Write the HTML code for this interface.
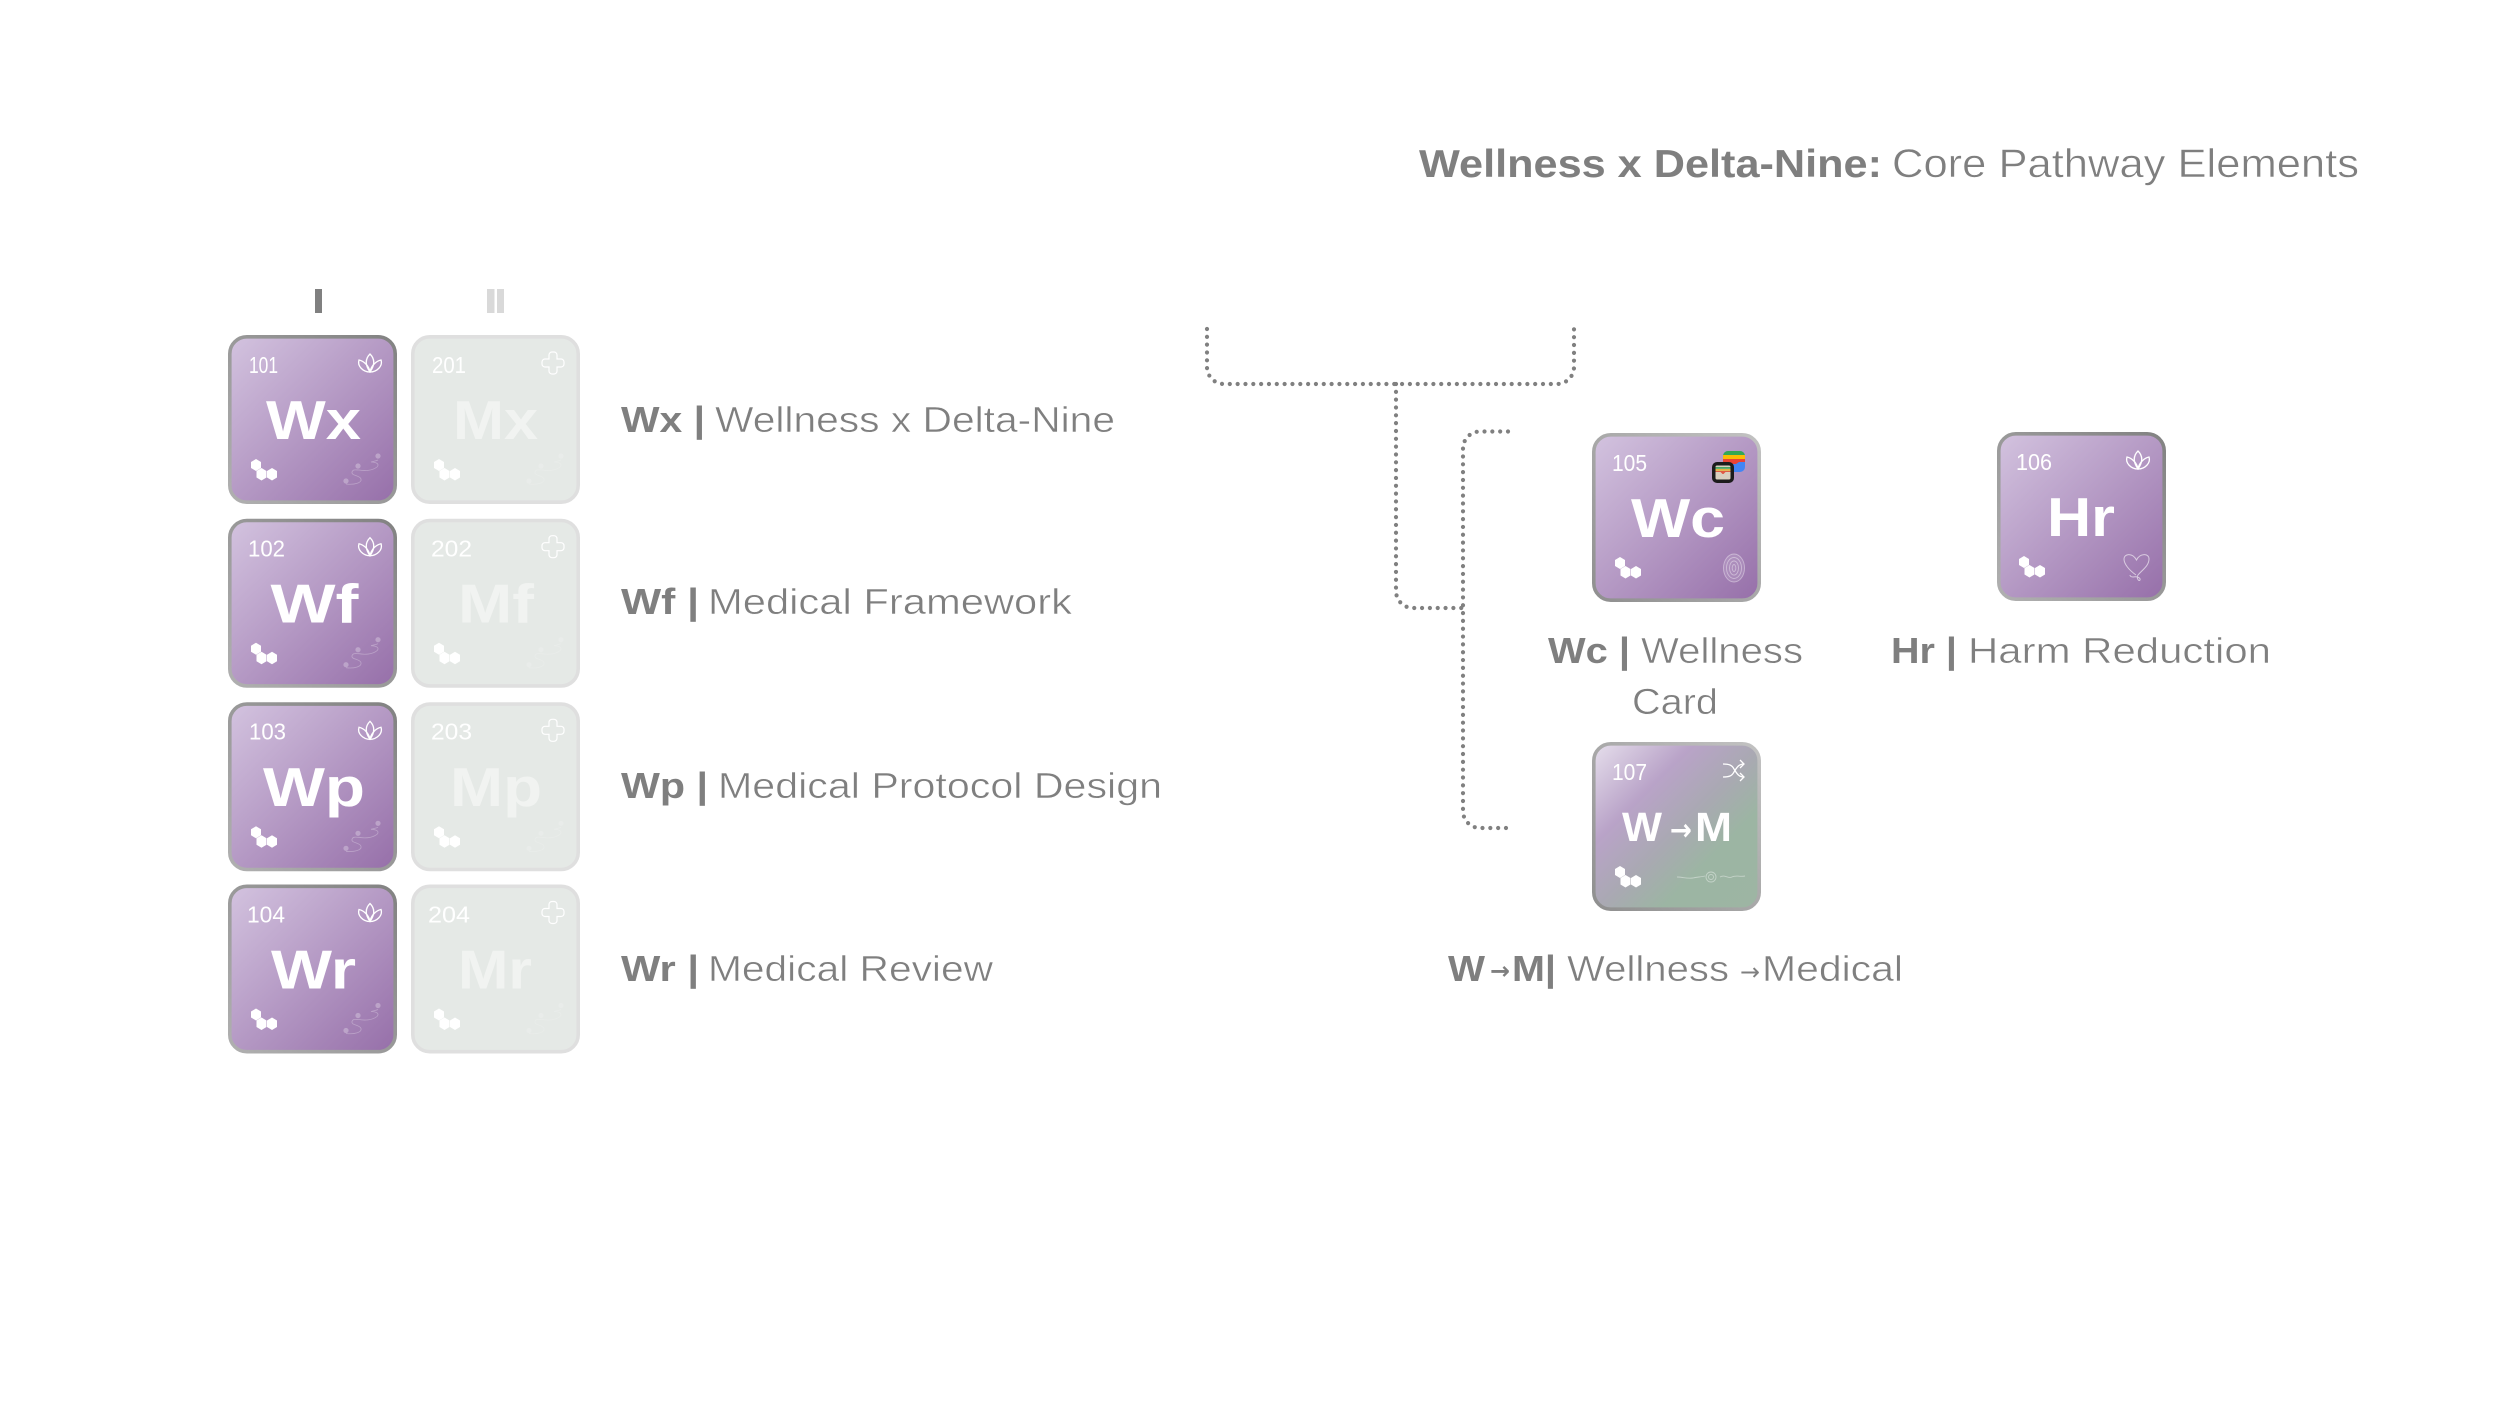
<!DOCTYPE html>
<html lang="en">
<head>
<meta charset="utf-8">
<title>Wellness x Delta-Nine: Core Pathway Elements</title>
<style>
html,body{margin:0;padding:0;background:#fff;width:2500px;height:1406px;overflow:hidden}
svg{display:block}
text{font-family:"Liberation Sans",sans-serif}
.b{font-weight:700;fill:#7f7f7f;font-size:36px}
.r{fill:#7f7f7f;font-size:36px;stroke:#fff;stroke-width:.5}
.sym{font-weight:700;fill:#fff;font-size:55px}
.symL{font-weight:700;fill:#f1f3f1;font-size:55px}
.nL{fill:#fff;font-size:23px;stroke:none}
.dot{fill:none;stroke:#808080;stroke-width:4.2;stroke-linecap:round;stroke-dasharray:0 7.83}
</style>
</head>
<body>
<svg width="2500" height="1406" viewBox="0 0 2500 1406" xmlns="http://www.w3.org/2000/svg">
<defs>
<linearGradient id="p" x1="0" y1="0" x2="1" y2="1">
<stop offset="0" stop-color="#d3c3df"/><stop offset="1" stop-color="#966fa9"/>
</linearGradient>
<linearGradient id="ps" x1="0" y1="1" x2="1" y2="0">
<stop offset="0" stop-color="#b0b0b0"/><stop offset="1" stop-color="#828282"/>
</linearGradient>
<linearGradient id="ps2" x1="0" y1="1" x2="1" y2="0">
<stop offset="0" stop-color="#8f8f8f"/><stop offset="1" stop-color="#c2c2c2"/>
</linearGradient>
<linearGradient id="mix" x1="0" y1="0" x2="1" y2="1">
<stop offset="0" stop-color="#e6dfec"/><stop offset=".3" stop-color="#b9a3c8"/><stop offset=".52" stop-color="#a9a9b2"/><stop offset=".7" stop-color="#9cb5a3"/><stop offset="1" stop-color="#9db5a3"/>
</linearGradient>
<g id="hex" fill="#fff">
<polygon points="28,124 33,127 33,133 28,136 23,133 23,127"/>
<polygon points="33.500,133 38.500,136 38.500,142.500 33.500,145.500 28.500,142.500 28.500,136"/>
<polygon points="44,133 49,136 49,142.500 44,145.500 39,142.500 39,136"/>
</g>
<g id="lotus" fill="none" stroke="#fff" stroke-width="1.300">
<path d="M142 19c-5 5-5 11 0 18c5-7 5-13 0-18z"/>
<path d="M142 37c-1-6-6-11-11-12c-2 6 4 12 11 12z"/>
<path d="M142 37c1-6 6-11 11-12c2 6-4 12-11 12z"/>
</g>
<g id="route" fill="none" stroke="#fff" stroke-width=".8" opacity=".28">
<path d="M118 149C126 150 134 148 133 144C132 140 123 141 124 137C125 134 128 135 131 135C136 136 144 136 149 132C152 129 148 127 143 127C146 126 148 126 150 125"/>
<circle cx="118" cy="146" r="2.200" fill="#fff"/><circle cx="130" cy="131" r="2.200" fill="#fff"/><circle cx="150" cy="121" r="2.200" fill="#fff"/>
</g>
<path id="plus" fill="none" stroke="#fff" stroke-width="1.200" d="M141 17h2a3 3 0 0 1 3 3v4h4a3 3 0 0 1 3 3v2a3 3 0 0 1-3 3h-4v4a3 3 0 0 1-3 3h-2a3 3 0 0 1-3-3v-4h-4a3 3 0 0 1-3-3v-2a3 3 0 0 1 3-3h4v-4a3 3 0 0 1 3-3z"/>
</defs>

<rect width="2500" height="1406" fill="#fff"/>

<!-- Title -->
<text x="1419" y="177" class="b" style="font-size:39px" textLength="463" lengthAdjust="spacingAndGlyphs">Wellness x Delta-Nine:</text>
<text x="1892" y="177" class="r" style="font-size:40px" textLength="467" lengthAdjust="spacingAndGlyphs">Core Pathway Elements</text>

<!-- Column headings -->
<rect x="315" y="289" width="7" height="24" fill="#808080"/>
<rect x="487" y="289" width="7.500" height="24" fill="#d9d9d9"/>
<rect x="497" y="289" width="7" height="24" fill="#d9d9d9"/>

<!-- Column I -->
<g transform="translate(228,335)">
<rect x="1.800" y="1.800" width="165.400" height="165.400" rx="17" fill="url(#p)" stroke="url(#ps)" stroke-width="3.600"/>
<text class="nL" x="21" y="38" textLength="29" lengthAdjust="spacingAndGlyphs">101</text>
<text class="sym" x="38" y="104" textLength="95" lengthAdjust="spacingAndGlyphs">Wx</text>
<use href="#lotus"/><use href="#hex"/><use href="#route"/>
</g>
<g transform="translate(228,518.700)">
<rect x="1.800" y="1.800" width="165.400" height="165.400" rx="17" fill="url(#p)" stroke="url(#ps)" stroke-width="3.600"/>
<text class="nL" x="20" y="38" textLength="37" lengthAdjust="spacingAndGlyphs">102</text>
<text class="sym" x="42.500" y="104" textLength="88" lengthAdjust="spacingAndGlyphs">Wf</text>
<use href="#lotus"/><use href="#hex"/><use href="#route"/>
</g>
<g transform="translate(228,702.300)">
<rect x="1.800" y="1.800" width="165.400" height="165.400" rx="17" fill="url(#p)" stroke="url(#ps)" stroke-width="3.600"/>
<text class="nL" x="21" y="37" textLength="37" lengthAdjust="spacingAndGlyphs">103</text>
<text class="sym" x="35" y="103.500" textLength="102" lengthAdjust="spacingAndGlyphs">Wp</text>
<use href="#lotus"/><use href="#hex"/><use href="#route"/>
</g>
<g transform="translate(228,884.500)">
<rect x="1.800" y="1.800" width="165.400" height="165.400" rx="17" fill="url(#p)" stroke="url(#ps)" stroke-width="3.600"/>
<text class="nL" x="19" y="38" textLength="38" lengthAdjust="spacingAndGlyphs">104</text>
<text class="sym" x="43" y="104" textLength="85" lengthAdjust="spacingAndGlyphs">Wr</text>
<use href="#lotus"/><use href="#hex"/><use href="#route"/>
</g>

<!-- Column II -->
<g transform="translate(411,335)">
<rect x="1.800" y="1.800" width="165.400" height="165.400" rx="17" fill="#e5e9e6" stroke="#dfdfdf" stroke-width="3.600"/>
<text class="nL" x="21" y="38" textLength="34" lengthAdjust="spacingAndGlyphs">201</text>
<text class="symL" x="42" y="104" textLength="85" lengthAdjust="spacingAndGlyphs">Mx</text>
<use href="#plus"/><use href="#hex"/><use href="#route" opacity=".5"/>
</g>
<g transform="translate(411,518.700)">
<rect x="1.800" y="1.800" width="165.400" height="165.400" rx="17" fill="#e5e9e6" stroke="#dfdfdf" stroke-width="3.600"/>
<text class="nL" x="20" y="38" textLength="41" lengthAdjust="spacingAndGlyphs">202</text>
<text class="symL" x="47" y="104" textLength="76" lengthAdjust="spacingAndGlyphs">Mf</text>
<use href="#plus"/><use href="#hex"/><use href="#route" opacity=".5"/>
</g>
<g transform="translate(411,702.300)">
<rect x="1.800" y="1.800" width="165.400" height="165.400" rx="17" fill="#e5e9e6" stroke="#dfdfdf" stroke-width="3.600"/>
<text class="nL" x="20" y="37" textLength="41" lengthAdjust="spacingAndGlyphs">203</text>
<text class="symL" x="39" y="103.500" textLength="92" lengthAdjust="spacingAndGlyphs">Mp</text>
<use href="#plus"/><use href="#hex"/><use href="#route" opacity=".5"/>
</g>
<g transform="translate(411,884.500)">
<rect x="1.800" y="1.800" width="165.400" height="165.400" rx="17" fill="#e5e9e6" stroke="#dfdfdf" stroke-width="3.600"/>
<text class="nL" x="17" y="38" textLength="42" lengthAdjust="spacingAndGlyphs">204</text>
<text class="symL" x="47" y="104" textLength="74" lengthAdjust="spacingAndGlyphs">Mr</text>
<use href="#plus"/><use href="#hex"/><use href="#route" opacity=".5"/>
</g>

<!-- Row labels -->
<text class="b" x="621" y="432" textLength="84" lengthAdjust="spacingAndGlyphs">Wx |</text>
<text class="r" x="715" y="432" textLength="400" lengthAdjust="spacingAndGlyphs">Wellness x Delta-Nine</text>
<text class="b" x="621" y="614" textLength="78" lengthAdjust="spacingAndGlyphs">Wf |</text>
<text class="r" x="708" y="614" textLength="364" lengthAdjust="spacingAndGlyphs">Medical Framework</text>
<text class="b" x="621" y="798" textLength="87" lengthAdjust="spacingAndGlyphs">Wp |</text>
<text class="r" x="718" y="798" textLength="444" lengthAdjust="spacingAndGlyphs">Medical Protocol Design</text>
<text class="b" x="621" y="981" textLength="78" lengthAdjust="spacingAndGlyphs">Wr |</text>
<text class="r" x="708" y="981" textLength="285" lengthAdjust="spacingAndGlyphs">Medical Review</text>

<!-- Connectors -->
<path class="dot" d="M1207 329V367a17 17 0 0 0 17 17H1557a17 17 0 0 0 17-17V326"/>
<path class="dot" d="M1396 384V591a17 17 0 0 0 17 17H1463"/>
<path class="dot" d="M1508 431.500H1480a17 17 0 0 0-17 17V811a17 17 0 0 0 17 17H1507"/>

<!-- Wc -->
<g transform="translate(1592,433)">
<rect x="1.800" y="1.800" width="165.400" height="165.400" rx="17" fill="url(#p)" stroke="url(#ps2)" stroke-width="3.600"/>
<text class="nL" x="20" y="38" textLength="35" lengthAdjust="spacingAndGlyphs">105</text>
<text class="sym" x="39" y="104" textLength="94" lengthAdjust="spacingAndGlyphs">Wc</text>
<use href="#hex"/>
<rect x="131" y="18" width="22" height="21" rx="5" fill="#4285f4"/>
<path d="M131 26v-3a5 5 0 0 1 5-5h12a5 5 0 0 1 5 5v3z" fill="#34a853"/>
<rect x="131" y="22" width="22" height="4" fill="#fbbc04"/>
<path d="M131 26h22v3h-6l-3 2h-5l-3-2h-5z" fill="#ea4335"/>
<rect x="120" y="29" width="22" height="21" rx="5" fill="#1c1c1c"/>
<rect x="123.500" y="32.500" width="15" height="14" rx="1.500" fill="#d9d0bf"/>
<rect x="123.500" y="34" width="15" height="1.800" fill="#4aa564"/>
<rect x="123.500" y="36" width="15" height="1.800" fill="#e3b23c"/>
<path d="M123.500 38h15v1h-5l-2 2h-1l-2-2h-5z" fill="#df5b45"/>
<ellipse cx="142" cy="135" rx="10.500" ry="14" fill="#fff" opacity=".12"/>
<g fill="none" stroke="#fff" stroke-width=".9" opacity=".4">
<ellipse cx="142" cy="135" rx="10.500" ry="14"/>
<ellipse cx="142" cy="135" rx="7.500" ry="10.500"/>
<ellipse cx="142" cy="135" rx="4.500" ry="7"/>
<ellipse cx="142" cy="135" rx="1.800" ry="3.500"/>
</g>
</g>

<!-- Hr -->
<g transform="translate(1997,432)">
<rect x="1.800" y="1.800" width="165.400" height="165.400" rx="17" fill="url(#p)" stroke="url(#ps)" stroke-width="3.600"/>
<text class="nL" x="19" y="38" textLength="36" lengthAdjust="spacingAndGlyphs">106</text>
<text class="sym" x="50" y="104" textLength="68" lengthAdjust="spacingAndGlyphs">Hr</text>
<use href="#lotus" transform="translate(-1 0)"/><use href="#hex" transform="translate(-1 0)"/>
<path d="M139 143C132 138 127 132 127 127C127 122 135 120 139.500 128C143 121 152 121 152 127C152 134 145 138 141 143C139 146 142 150 143 148C144 146 140 144 136 145C134 145 133 144 133 143" fill="none" stroke="#fff" stroke-width="1" opacity=".6"/>
</g>

<!-- W→M -->
<g transform="translate(1592,742)">
<rect x="1.800" y="1.800" width="165.400" height="165.400" rx="17" fill="url(#mix)" stroke="url(#ps2)" stroke-width="3.600"/>
<text class="nL" x="20" y="38" textLength="35" lengthAdjust="spacingAndGlyphs">107</text>
<text class="sym" style="font-size:41px" x="30" y="99" textLength="40" lengthAdjust="spacingAndGlyphs">W</text>
<text style="font-family:'DejaVu Sans',sans-serif;font-weight:700;font-size:30px;fill:#fff" x="78" y="98" textLength="22" lengthAdjust="spacingAndGlyphs">→</text>
<text class="sym" style="font-size:41px" x="103" y="99" textLength="37" lengthAdjust="spacingAndGlyphs">M</text>
<use href="#hex"/>
<g fill="none" stroke="#fff" stroke-width="1.300">
<path d="M131 22c6 0 9 1 11 5c3 5 5 8 10 8"/>
<path d="M131 35c6 0 9-1 11-5c3-5 5-8 10-8"/>
<path d="M148 18l4 4-4 4M148 31l4 4-4 4"/>
</g>
<g fill="none" stroke="#fff" stroke-width=".9" opacity=".4">
<path d="M85 135c6 0 10 2 16 1c4-1 8-1 12-2M128 135c5-3 8 2 12 0c4-2 8 0 13-1"/>
<circle cx="119" cy="135" r="5"/><circle cx="119" cy="135" r="2.500"/>
</g>
</g>

<!-- Right labels -->
<text class="b" x="1548" y="663" textLength="82" lengthAdjust="spacingAndGlyphs">Wc |</text>
<text class="r" x="1641" y="663" textLength="162" lengthAdjust="spacingAndGlyphs">Wellness</text>
<text class="r" x="1632" y="714" textLength="86" lengthAdjust="spacingAndGlyphs">Card</text>
<text class="b" x="1891" y="663" textLength="66" lengthAdjust="spacingAndGlyphs">Hr |</text>
<text class="r" x="1968" y="663" textLength="303" lengthAdjust="spacingAndGlyphs">Harm Reduction</text>
<text class="b" x="1448" y="981" textLength="37" lengthAdjust="spacingAndGlyphs">W</text>
<text style="font-family:'DejaVu Sans',sans-serif;font-weight:700;font-size:24px;fill:#7f7f7f" x="1490" y="979" textLength="20" lengthAdjust="spacingAndGlyphs">→</text>
<text class="b" x="1512" y="981" textLength="44" lengthAdjust="spacingAndGlyphs">M|</text>
<text class="r" x="1567" y="981" textLength="162" lengthAdjust="spacingAndGlyphs">Wellness</text>
<text style="font-family:'DejaVu Sans',sans-serif;font-size:24px;fill:#7f7f7f" x="1740" y="980" textLength="20" lengthAdjust="spacingAndGlyphs">→</text>
<text class="r" x="1762" y="981" textLength="141" lengthAdjust="spacingAndGlyphs">Medical</text>
</svg>
</body>
</html>
